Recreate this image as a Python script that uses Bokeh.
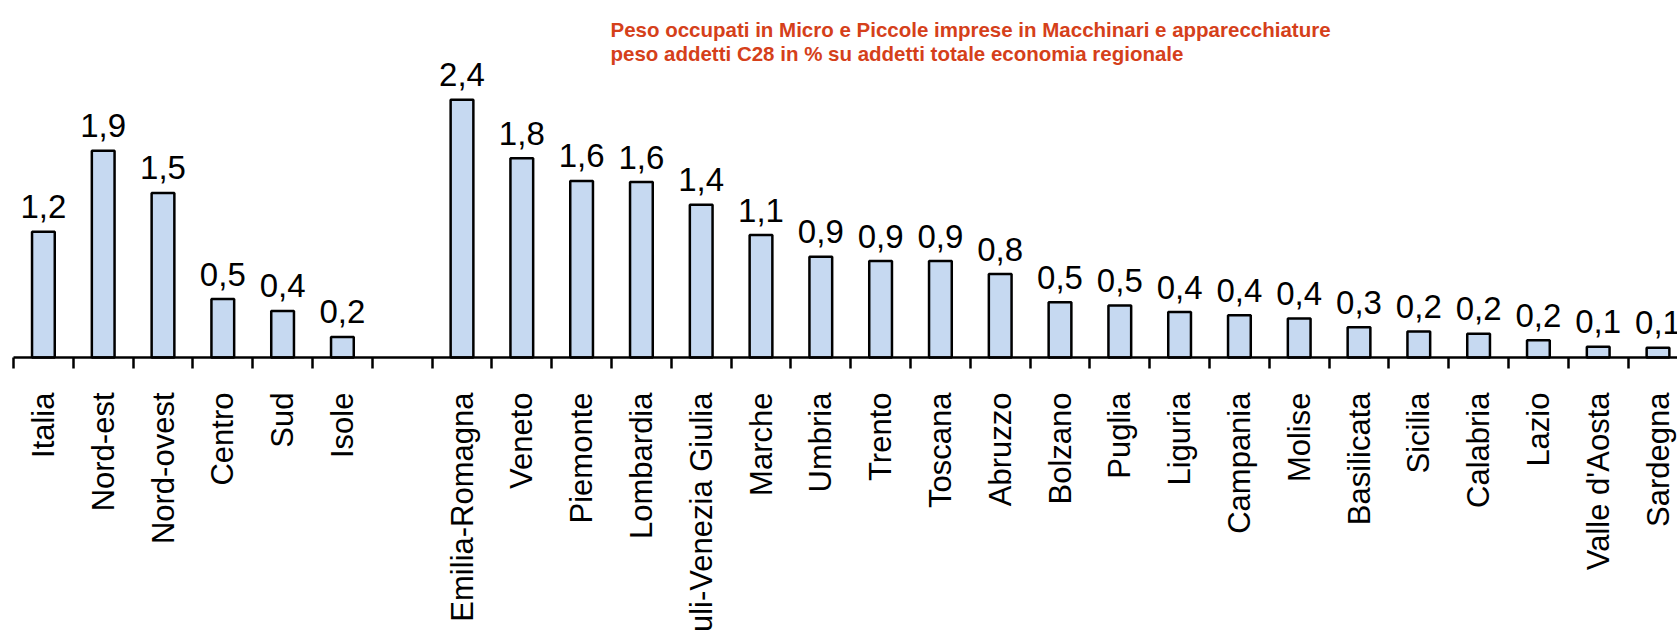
import math
from bokeh.plotting import figure
from bokeh.models import Range1d, LinearAxis, FixedTicker, ColumnDataSource, Label
from bokeh.core.properties import value
from bokeh.embed import file_html
from bokeh.resources import INLINE

# ---- data ----
categories = ["Italia", "Nord-est", "Nord-ovest", "Centro", "Sud", "Isole", "",
              "Emilia-Romagna", "Veneto", "Piemonte", "Lombardia", "Friuli-Venezia Giulia",
              "Marche", "Umbria", "Trento", "Toscana", "Abruzzo", "Bolzano", "Puglia",
              "Liguria", "Campania", "Molise", "Basilicata", "Sicilia", "Calabria",
              "Lazio", "Valle d'Aosta", "Sardegna"]
values = [1.16, 1.91, 1.52, 0.54, 0.43, 0.19, None,
          2.38, 1.84, 1.63, 1.62, 1.41,
          1.13, 0.93, 0.89, 0.89, 0.77, 0.51, 0.48,
          0.42, 0.39, 0.36, 0.28, 0.24, 0.22,
          0.16, 0.10, 0.09]
title_lines = ["Peso occupati in Micro e Piccole imprese in Macchinari e apparecchiature",
               "peso addetti C28 in % su addetti totale economia regionale"]

FONT = "Liberation Sans"

centers = [i + 0.5 for i in range(len(categories))]
xs, tops, labels = [], [], []
for c, v in zip(centers, values):
    if v is None:
        continue
    xs.append(c)
    tops.append(v)
    labels.append(f"{v:.1f}".replace(".", ","))
src = ColumnDataSource(dict(x=xs, top=tops, label=labels))

p = figure(width=1677, height=631,
           x_range=Range1d(-0.2174, 27.826), y_range=Range1d(-2.530, 3.2964),
           output_backend="svg", toolbar_location=None,
           x_axis_location=None, y_axis_location=None,
           min_border=0, min_border_left=0, min_border_right=0,
           min_border_top=0, min_border_bottom=0)
p.outline_line_color = None
p.xgrid.visible = False
p.ygrid.visible = False
p.background_fill_color = "white"

p.vbar(x="x", top="top", width=0.38, bottom=0, source=src,
       fill_color="#c6d9f1", line_color="black", line_width=2.5)

p.text(x="x", y="top", text="label", source=src,
       text_font=value(FONT), text_font_size="33px", text_color="black",
       text_align="center", text_baseline="alphabetic", y_offset=-25)

axis = LinearAxis(fixed_location=0)
axis.ticker = FixedTicker(ticks=centers, minor_ticks=list(range(len(categories) + 1)))
axis.major_label_overrides = {c: name for c, name in zip(centers, categories)}
axis.major_label_orientation = math.pi / 2
axis.major_label_text_font = FONT
axis.major_label_text_font_size = "31px"
axis.major_label_text_color = "black"
axis.major_label_standoff = 24
axis.major_tick_out = 0
axis.major_tick_in = 0
axis.minor_tick_out = 11
axis.minor_tick_in = 0
axis.minor_tick_line_color = "black"
axis.minor_tick_line_width = 2.5
axis.axis_line_color = "black"
axis.axis_line_width = 2.5
axis.bounds = (0, len(categories))
p.add_layout(axis, "below")

for txt, yv in zip(title_lines, [3.026, 2.804]):
    p.add_layout(Label(x=9.983, y=yv, text=txt, text_font=FONT,
                       text_font_style="bold", text_font_size="20.5px",
                       text_color="#d5401a", text_baseline="alphabetic",
                       text_align="left"))

open("out.html", "w").write(file_html(p, INLINE))
